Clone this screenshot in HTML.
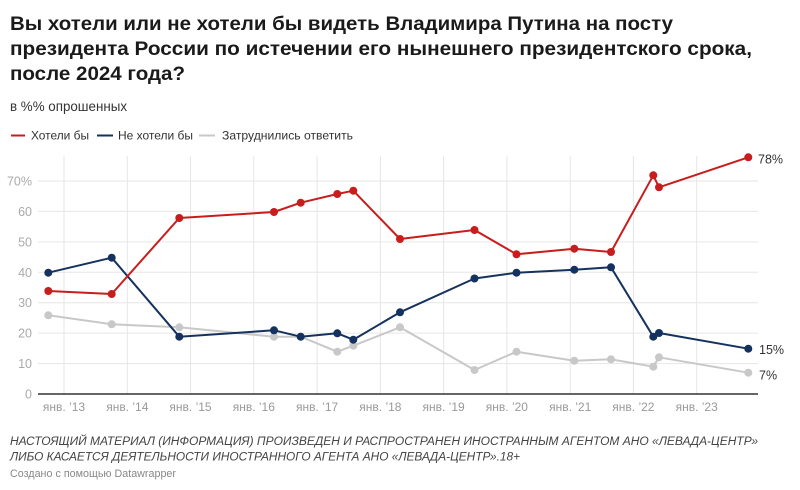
<!DOCTYPE html>
<html><head><meta charset="utf-8"><style>
html,body{margin:0;padding:0;background:#fff;}
svg{display:block;}
text{font-family:"Liberation Sans","Noto Sans CJK SC",sans-serif;}
</style></head><body>
<svg width="800" height="490" viewBox="0 0 800 490" xmlns="http://www.w3.org/2000/svg">
<rect width="800" height="490" fill="#fff"/>
<g font-weight="bold" font-size="19" fill="#1a1a1a">
<text x="10" y="30" textLength="663" lengthAdjust="spacingAndGlyphs">Вы хотели или не хотели бы видеть Владимира Путина на посту</text>
<text x="10" y="55" textLength="742" lengthAdjust="spacingAndGlyphs">президента России по истечении его нынешнего президентского срока,</text>
<text x="10" y="80" textLength="175" lengthAdjust="spacingAndGlyphs">после 2024 года?</text>
</g>
<text x="10" y="111" font-size="13.5" fill="#333" textLength="117" lengthAdjust="spacingAndGlyphs">в %% опрошенных</text>
<g font-size="12" fill="#333">
<line x1="11" y1="135.5" x2="25" y2="135.5" stroke="#c71e1d" stroke-width="2"/>
<text x="31" y="139.5" textLength="58" lengthAdjust="spacingAndGlyphs">Хотели бы</text>
<line x1="97" y1="135.5" x2="113" y2="135.5" stroke="#15325f" stroke-width="2"/>
<text x="118" y="139.5" textLength="75" lengthAdjust="spacingAndGlyphs">Не хотели бы</text>
<line x1="199" y1="135.5" x2="215" y2="135.5" stroke="#c8c8c8" stroke-width="2"/>
<text x="222" y="139.5" textLength="131" lengthAdjust="spacingAndGlyphs">Затруднились ответить</text>
</g>
<g stroke="#e6e6e6" stroke-width="1">
<line x1="64" y1="156" x2="64" y2="394"/>
<line x1="127.3" y1="156" x2="127.3" y2="394"/>
<line x1="190.5" y1="156" x2="190.5" y2="394"/>
<line x1="253.8" y1="156" x2="253.8" y2="394"/>
<line x1="317.1" y1="156" x2="317.1" y2="394"/>
<line x1="380.4" y1="156" x2="380.4" y2="394"/>
<line x1="443.6" y1="156" x2="443.6" y2="394"/>
<line x1="506.9" y1="156" x2="506.9" y2="394"/>
<line x1="570.2" y1="156" x2="570.2" y2="394"/>
<line x1="633.4" y1="156" x2="633.4" y2="394"/>
<line x1="696.7" y1="156" x2="696.7" y2="394"/>
<line x1="38" y1="181" x2="758" y2="181"/>
<line x1="38" y1="211.4" x2="758" y2="211.4"/>
<line x1="38" y1="241.9" x2="758" y2="241.9"/>
<line x1="38" y1="272.3" x2="758" y2="272.3"/>
<line x1="38" y1="302.7" x2="758" y2="302.7"/>
<line x1="38" y1="333.1" x2="758" y2="333.1"/>
<line x1="38" y1="363.6" x2="758" y2="363.6"/>
</g>
<line x1="38" y1="394" x2="758" y2="394" stroke="#333" stroke-width="1.5"/>
<g font-size="12.5" fill="#aaa" text-anchor="end">
<text x="32" y="185.5">70%</text>
<text x="32" y="215.9">60</text>
<text x="32" y="246.4">50</text>
<text x="32" y="276.8">40</text>
<text x="32" y="307.2">30</text>
<text x="32" y="337.6">20</text>
<text x="32" y="368.1">10</text>
<text x="32" y="398.5">0</text>
</g>
<g font-size="12" fill="#999" text-anchor="middle">
<text x="64" y="411">янв. ’13</text>
<text x="127.3" y="411">янв. ’14</text>
<text x="190.5" y="411">янв. ’15</text>
<text x="253.8" y="411">янв. ’16</text>
<text x="317.1" y="411">янв. ’17</text>
<text x="380.4" y="411">янв. ’18</text>
<text x="443.6" y="411">янв. ’19</text>
<text x="506.9" y="411">янв. ’20</text>
<text x="570.2" y="411">янв. ’21</text>
<text x="633.4" y="411">янв. ’22</text>
<text x="696.7" y="411">янв. ’23</text>
</g>
<!-- gray series -->
<g fill="#c8c8c8">
<polyline fill="none" stroke="#c8c8c8" stroke-width="2" stroke-linejoin="round" points="48.3,315.3 111.7,324.3 179.3,327.3 274,336.7 300.7,336.7 337.3,351.7 353.3,345.7 400,327.3 474.5,370 516.5,351.7 574.3,360.7 611,359.3 653.3,366.7 659,357.3 748.3,372.7"/>
<circle cx="48.3" cy="315.3" r="4"/><circle cx="111.7" cy="324.3" r="4"/><circle cx="179.3" cy="327.3" r="4"/><circle cx="274" cy="336.7" r="4"/><circle cx="300.7" cy="336.7" r="4"/><circle cx="337.3" cy="351.7" r="4"/><circle cx="353.3" cy="345.7" r="4"/><circle cx="400" cy="327.3" r="4"/><circle cx="474.5" cy="370" r="4"/><circle cx="516.5" cy="351.7" r="4"/><circle cx="574.3" cy="360.7" r="4"/><circle cx="611" cy="359.3" r="4"/><circle cx="653.3" cy="366.7" r="4"/><circle cx="659" cy="357.3" r="4"/><circle cx="748.3" cy="372.7" r="4"/>
</g>
<!-- blue series -->
<g fill="#15325f">
<polyline fill="none" stroke="#15325f" stroke-width="2" stroke-linejoin="round" points="48.3,272.7 111.7,257.7 179.3,336.7 274,330.3 300.7,336.7 337.3,333.3 353.3,339.7 400,312.3 474.5,278.5 516.5,272.7 574.3,269.7 611,267.3 653.3,336.7 659,333 748.3,348.7"/>
<circle cx="48.3" cy="272.7" r="4"/><circle cx="111.7" cy="257.7" r="4"/><circle cx="179.3" cy="336.7" r="4"/><circle cx="274" cy="330.3" r="4"/><circle cx="300.7" cy="336.7" r="4"/><circle cx="337.3" cy="333.3" r="4"/><circle cx="353.3" cy="339.7" r="4"/><circle cx="400" cy="312.3" r="4"/><circle cx="474.5" cy="278.5" r="4"/><circle cx="516.5" cy="272.7" r="4"/><circle cx="574.3" cy="269.7" r="4"/><circle cx="611" cy="267.3" r="4"/><circle cx="653.3" cy="336.7" r="4"/><circle cx="659" cy="333" r="4"/><circle cx="748.3" cy="348.7" r="4"/>
</g>
<!-- red series -->
<g fill="#c71e1d">
<polyline fill="none" stroke="#c71e1d" stroke-width="2" stroke-linejoin="round" points="48.3,291 111.7,294 179.3,218 274,212 300.7,202.7 337.3,194 353.3,190.7 400,239 474.5,230 516.5,254.3 574.3,248.7 611,252 653.3,175.3 659,187.3 748.3,157.3"/>
<circle cx="48.3" cy="291" r="4"/><circle cx="111.7" cy="294" r="4"/><circle cx="179.3" cy="218" r="4"/><circle cx="274" cy="212" r="4"/><circle cx="300.7" cy="202.7" r="4"/><circle cx="337.3" cy="194" r="4"/><circle cx="353.3" cy="190.7" r="4"/><circle cx="400" cy="239" r="4"/><circle cx="474.5" cy="230" r="4"/><circle cx="516.5" cy="254.3" r="4"/><circle cx="574.3" cy="248.7" r="4"/><circle cx="611" cy="252" r="4"/><circle cx="653.3" cy="175.3" r="4"/><circle cx="659" cy="187.3" r="4"/><circle cx="748.3" cy="157.3" r="4"/>
</g>
<g font-size="12.5" fill="#333">
<text x="758" y="163.5">78%</text>
<text x="759" y="354">15%</text>
<text x="759" y="379.5">7%</text>
</g>
<g font-style="italic" font-size="11.5" fill="#444">
<text x="10" y="445" textLength="748" lengthAdjust="spacingAndGlyphs">НАСТОЯЩИЙ МАТЕРИАЛ (ИНФОРМАЦИЯ) ПРОИЗВЕДЕН И РАСПРОСТРАНЕН ИНОСТРАННЫМ АГЕНТОМ АНО «ЛЕВАДА-ЦЕНТР»</text>
<text x="10" y="460.5" textLength="510" lengthAdjust="spacingAndGlyphs">ЛИБО КАСАЕТСЯ ДЕЯТЕЛЬНОСТИ ИНОСТРАННОГО АГЕНТА АНО «ЛЕВАДА-ЦЕНТР».18+</text>
</g>
<text x="10" y="477" font-size="11" fill="#888" textLength="166" lengthAdjust="spacingAndGlyphs">Создано с помощью Datawrapper</text>
</svg>
</body></html>
